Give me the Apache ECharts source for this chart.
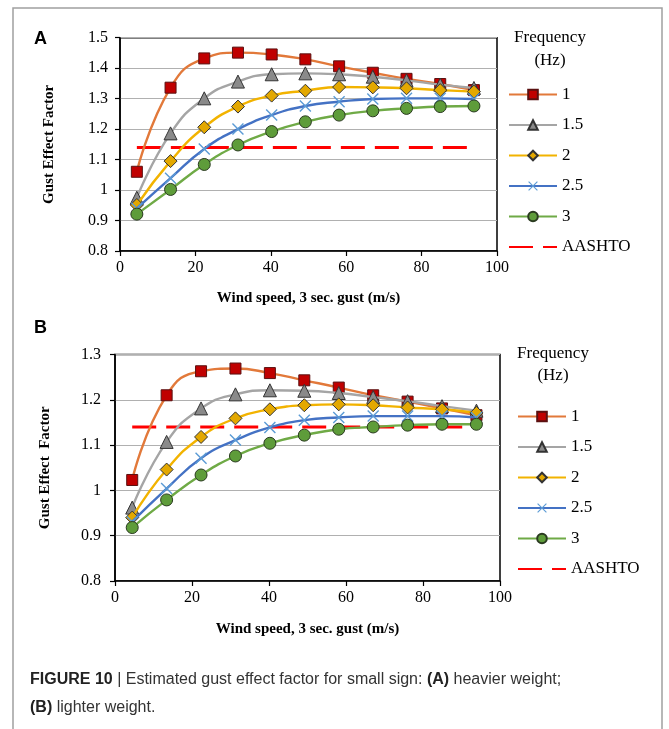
<!DOCTYPE html>
<html><head><meta charset="utf-8">
<script src="https://cdn.jsdelivr.net/npm/echarts@6/dist/echarts.min.js"></script>
<style>html,body{margin:0;padding:0;background:#fff}#c{width:669px;height:729px}</style>
</head><body><div id="c"></div>
<script>
// ---- data ----
const windSpeed = [4.47, 13.41, 22.35, 31.29, 40.23, 49.17, 58.12, 67.06, 76.00, 84.94, 93.88];
const freqNames = ['1', '1.5', '2', '2.5', '3'];
const aashtoName = 'AASHTO';
const aashtoValue = 1.14;
// Panel A: heavier weight
const heavy_f1  = [1.060, 1.336, 1.432, 1.451, 1.445, 1.429, 1.406, 1.385, 1.365, 1.348, 1.328];
const heavy_f15 = [0.975, 1.186, 1.301, 1.356, 1.380, 1.383, 1.380, 1.372, 1.360, 1.346, 1.335];
const heavy_f2  = [0.951, 1.095, 1.206, 1.274, 1.310, 1.326, 1.338, 1.337, 1.334, 1.328, 1.323];
const heavy_f25 = [0.940, 1.039, 1.135, 1.200, 1.246, 1.276, 1.290, 1.299, 1.301, 1.301, 1.299];
const heavy_f3  = [0.921, 1.002, 1.084, 1.148, 1.192, 1.224, 1.246, 1.260, 1.268, 1.274, 1.276];
// Panel B: lighter weight
const light_f1  = [1.023, 1.210, 1.263, 1.269, 1.259, 1.243, 1.227, 1.210, 1.196, 1.181, 1.166];
const light_f15 = [0.962, 1.107, 1.181, 1.212, 1.221, 1.220, 1.215, 1.206, 1.197, 1.186, 1.176];
const light_f2  = [0.940, 1.046, 1.118, 1.159, 1.179, 1.188, 1.190, 1.188, 1.183, 1.179, 1.171];
const light_f25 = [0.931, 1.004, 1.071, 1.111, 1.139, 1.155, 1.161, 1.164, 1.164, 1.164, 1.161];
const light_f3  = [0.918, 0.979, 1.034, 1.076, 1.104, 1.122, 1.135, 1.140, 1.144, 1.146, 1.146];
const xTicks = [0, 20, 40, 60, 80, 100];
const yTicksA = [0.8, 0.9, 1.0, 1.1, 1.2, 1.3, 1.4, 1.5];
const yTicksB = [0.8, 0.9, 1.0, 1.1, 1.2, 1.3];

// ---- styles ----
const crossPath = 'path://M0,1L1,0L6,5L11,0L12,1L7,6L12,11L11,12L6,7L1,12L0,11L5,6Z';
const styles = [
  {line:'#E2793A', fill:'#C00000', border:'#5a1010', symbol:'rect', size:11},
  {line:'#A5A5A5', fill:'#8A8A8A', border:'#333333', symbol:'triangle', size:13},
  {line:'#F2B300', fill:'#E3A800', border:'#333333', symbol:'diamond', size:13},
  {line:'#4472C4', fill:'#5B9BD5', border:'#5B9BD5', symbol:crossPath, size:12},
  {line:'#6FAA46', fill:'#5E9C3A', border:'#2a3a20', symbol:'circle', size:12}
];
const serif = '"Liberation Serif", "DejaVu Serif", serif';
const sans = '"Liberation Sans", Arial, sans-serif';

function pairs(vals){ return windSpeed.map((x,i)=>[x, vals[i]]); }

function makeSeries(sets, idx){
  const out = sets.map((vals,k)=>{
    const s = styles[k];
    return {
      name: freqNames[k], type:'line', xAxisIndex:idx, yAxisIndex:idx,
      data: pairs(vals), smooth:0.5, showSymbol:true,
      symbol:s.symbol, symbolSize:s.size,
      lineStyle:{color:s.line, width:2.4},
      itemStyle:{color:s.fill, borderColor:s.border, borderWidth: k===3?0:1},
      z: 3 + k, animation:false
    };
  });
  out.push({
    name: aashtoName, type:'line', xAxisIndex:idx, yAxisIndex:idx,
    data: windSpeed.map(x=>[x, aashtoValue]), showSymbol:false, symbol:'none',
    lineStyle:{color:'#FF0000', width:3, type:[24,10]},
    itemStyle:{color:'#FF0000', opacity:0}, z:2, animation:false
  });
  return out;
}

function xAxis(idx, gap){
  return {
    type:'value', gridIndex:idx, min:xTicks[0], max:xTicks[xTicks.length-1], interval:20,
    name:'Wind speed, 3 sec. gust (m/s)', nameLocation:'middle', nameGap:gap,
    nameTextStyle:{fontFamily:serif, fontWeight:'bold', fontSize:15, color:'#000'},
    axisLine:{show:true, lineStyle:{color:'#000', width:1.5}},
    axisTick:{show:true, length:5, lineStyle:{color:'#000', width:1.2}},
    axisLabel:{fontFamily:serif, fontSize:16, color:'#000', margin:9},
    splitLine:{show:false}
  };
}
function yAxis(idx, ticks, gap, margin){
  return {
    type:'value', gridIndex:idx, min:ticks[0], max:ticks[ticks.length-1], interval:0.1,
    name: idx===0 ? 'Gust Effect Factor' : 'Gust Effect  Factor',
    nameLocation:'middle', nameGap:gap,
    nameTextStyle:{fontFamily:serif, fontWeight:'bold', fontSize:15, color:'#000'},
    axisLine:{show:true, lineStyle:{color:'#000', width:1.5}},
    axisTick:{show:true, length:5, lineStyle:{color:'#000', width:1.2}},
    axisLabel:{fontFamily:serif, fontSize:16, color:'#000', margin:margin,
      formatter:v=>String(Math.round(v*10)/10)},
    splitLine:{show:true, lineStyle:{color:'#B0B0B0', width:1.2}}
  };
}
function legend(left, top){
  return {
    orient:'vertical', left:left, top:top, padding:0, itemWidth:48, itemHeight:12, itemGap:13.5,
    data:[...freqNames, aashtoName], selectedMode:false,
    textStyle:{fontFamily:serif, fontSize:17, color:'#000'}
  };
}

const chart = echarts.init(document.getElementById('c'), null, {renderer:'canvas'});
chart.setOption({
  animation:false,
  backgroundColor:'#fff',
  grid:[
    {left:120, top:37.7, width:377, height:213.3, show:true, borderColor:'#000', borderWidth:1.5, backgroundColor:'transparent'},
    {left:115, top:354.5, width:385, height:226.5, show:true, borderColor:'#000', borderWidth:1.5, backgroundColor:'transparent'}
  ],
  xAxis:[xAxis(0, 40), xAxis(1, 41)],
  yAxis:[yAxis(0, yTicksA, 63, 12), yAxis(1, yTicksB, 62, 14)],
  legend:[legend(508, 86), legend(517, 408)],
  series:[
    ...makeSeries([heavy_f1, heavy_f15, heavy_f2, heavy_f25, heavy_f3], 0),
    ...makeSeries([light_f1, light_f15, light_f2, light_f25, light_f3], 1)
  ],
  graphic:[
    {type:'rect', shape:{x:13, y:8, width:649, height:800}, style:{fill:'none', stroke:'#A0A0A0', lineWidth:1.5}, silent:true},
    {type:'text', x:34, y:39, style:{text:'A', font:'bold 18px '+sans, fill:'#000', textVerticalAlign:'middle'}},
    {type:'text', x:34, y:328, style:{text:'B', font:'bold 18px '+sans, fill:'#000', textVerticalAlign:'middle'}},
    {type:'text', x:550, y:38, style:{text:'Frequency', font:'17px '+serif, fill:'#000', textAlign:'center', textVerticalAlign:'middle'}},
    {type:'text', x:550, y:61, style:{text:'(Hz)', font:'17px '+serif, fill:'#000', textAlign:'center', textVerticalAlign:'middle'}},
    {type:'text', x:553, y:354, style:{text:'Frequency', font:'17px '+serif, fill:'#000', textAlign:'center', textVerticalAlign:'middle'}},
    {type:'text', x:553, y:376, style:{text:'(Hz)', font:'17px '+serif, fill:'#000', textAlign:'center', textVerticalAlign:'middle'}},
    {type:'text', x:30, y:680, style:{
      text:'{b|FIGURE 10} | Estimated gust effect factor for small sign: {b|(A)} heavier weight;',
      font:'16px '+sans, fill:'#333', textVerticalAlign:'middle',
      rich:{b:{fontWeight:'bold', fontFamily:sans, fontSize:16, fill:'#222', color:'#222'}}}},
    {type:'text', x:30, y:708, style:{
      text:'{b|(B)} lighter weight.',
      font:'16px '+sans, fill:'#333', textVerticalAlign:'middle',
      rich:{b:{fontWeight:'bold', fontFamily:sans, fontSize:16, fill:'#222', color:'#222'}}}}
  ]
});
</script></body></html>
